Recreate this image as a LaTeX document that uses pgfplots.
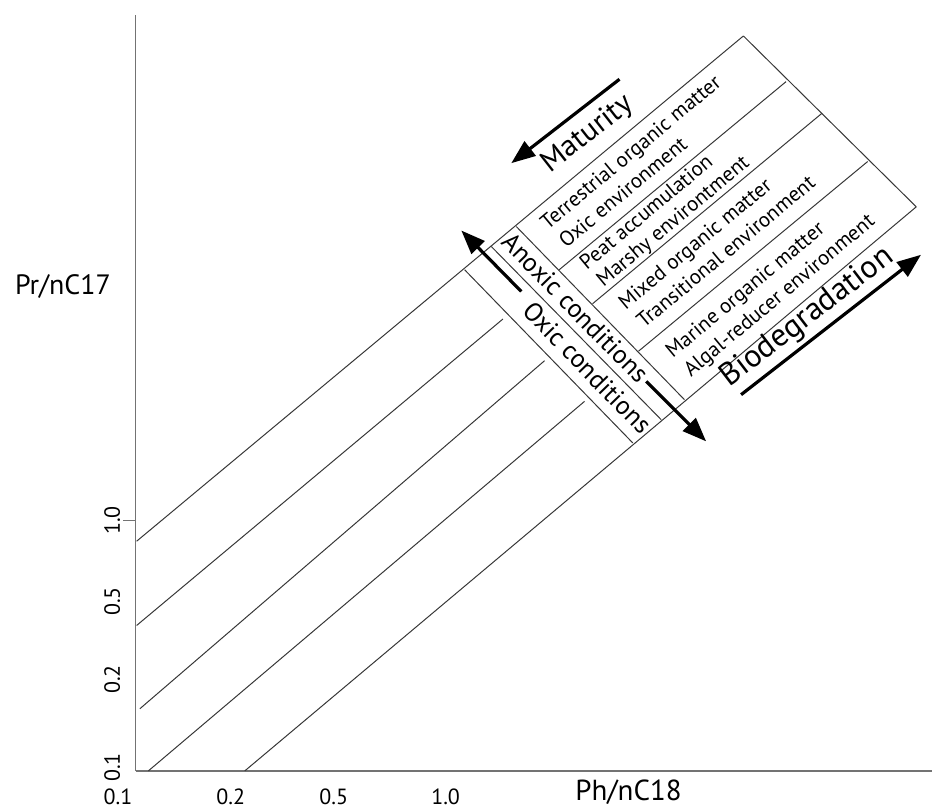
\documentclass[border=0pt]{standalone}
\usepackage{pgfplots}
\pgfplotsset{compat=1.18}
\usepackage{fontspec}
\setmainfont{PT Sans}
\usetikzlibrary{arrows.meta}
\definecolor{lg}{RGB}{55,55,55}
\definecolor{axgray}{RGB}{115,115,115}
\tikzset{boxtxt/.style={font=\fontsize{10.5}{12}\selectfont, anchor=base west, rotate=39.8, inner sep=0pt}}
\begin{document}
\begin{tikzpicture}
\begin{axis}[
  scale only axis,
  width=398.65pt, height=378.35pt,
  xmin=135.7, xmax=933, ymin=35.3, ymax=792,
  axis lines=left,
  axis line style={-, draw=axgray, line width=0.75pt},
  clip=false,
  /pgf/number format/assume math mode=true,
  tick align=outside, major tick length=6.3pt,
  tick style={draw=axgray, line width=0.75pt},
  xtick={231,334,446}, xticklabels={0.2,0.5,1.0},
  extra x ticks={135.7}, extra x tick labels={0.1},
  extra x tick style={tick style={draw=none}, xticklabel style={xshift=-8.85pt}},
  xtick style={draw=none},
  xticklabel style={anchor=base, yshift=-10.35pt, font=\fontsize{11}{13}\selectfont},
  ytick={286}, yticklabels={1.0},
  extra y ticks={205,127,39}, extra y tick labels={0.5,0.2,0.1},
  extra y tick style={tick style={draw=none}},
  yticklabel style={xshift=-1.55pt, rotate=90, anchor=base, font=\fontsize{11}{13}\selectfont},
  xlabel={Ph/nC18}, xlabel style={at={(axis cs:629,6)}, anchor=base, font=\fontsize{14.5}{17}\selectfont},
  ylabel={Pr/nC17}, ylabel style={at={(axis cs:63,512)}, anchor=base, rotate=-90, font=\fontsize{14}{17}\selectfont},
  thin/.style={draw=lg, line width=0.5pt, no marks},
  arr/.style={draw=black, line width=1.6pt, no marks, -{Triangle[length=12pt,width=9pt]}},
]
\path (axis cs:0,0) rectangle (axis cs:933,807);
% diagonal lines
\addplot[thin] coordinates {(136.7,265.3) (744,771)};
\addplot[thin] coordinates {(136.7,181) (503.3,487.7)};
\addplot[thin] coordinates {(140,97.7) (545,446)};
\addplot[thin] coordinates {(148.5,35.5) (585,405.3)};
\addplot[thin] coordinates {(245,35.5) (917,600)};
% strips
\addplot[thin] coordinates {(465,537) (633.3,363.7)};
\addplot[thin] coordinates {(491.7,560.3) (661.7,387)};
\addplot[thin] coordinates {(516.7,580.3) (685,407)};
\addplot[thin] coordinates {(744,771) (917,600)};
% dividers
\addplot[thin] coordinates {(559,536.5) (786.7,725.3)};
\addplot[thin] coordinates {(593,503) (822.7,693.7)};
\addplot[thin] coordinates {(639,455.5) (868.3,645.3)};
% arrows
\addplot[arr] coordinates {(620,727.7) (511.7,643.7)};
\addplot[arr] coordinates {(521.7,515.3) (461.7,576.3)};
\addplot[arr] coordinates {(646.7,425.3) (706.7,365.3)};
\addplot[arr] coordinates {(741.7,412) (921.7,552)};
% texts
\node[boxtxt] at (axis cs:548.1,576.4) {Terrestrial organic matter};
\node[boxtxt] at (axis cs:566.4,557.8) {Oxic environment};
\node[boxtxt] at (axis cs:587.1,536.4) {Peat accumulation};
\node[boxtxt] at (axis cs:603.9,519.2) {Marshy environtment};
\node[boxtxt] at (axis cs:626.1,496.2) {Mixed organic matter};
\node[boxtxt] at (axis cs:644.3,477.5) {Transitional environment};
\node[boxtxt] at (axis cs:673.2,447.8) {Marine organic matter};
\node[boxtxt] at (axis cs:691.3,429.1) {Algal-reducer environment};
\node[font=\fontsize{15}{18}\selectfont, anchor=base, rotate=38, inner sep=0pt] at (axis cs:593,666.6) {Maturity};
\node[font=\fontsize{16}{18}\selectfont, anchor=base, rotate=37.5, inner sep=0pt] at (axis cs:813,483) {Biodegradation};
\node[font=\fontsize{13}{15}\selectfont, rotate=-45.8, inner sep=0pt] at (axis cs:576,499) {Anoxic conditions};
\node[font=\fontsize{13}{15}\selectfont, rotate=-45.8, inner sep=0pt] at (axis cs:588,439) {Oxic conditions};
\end{axis}
\end{tikzpicture}
\end{document}
